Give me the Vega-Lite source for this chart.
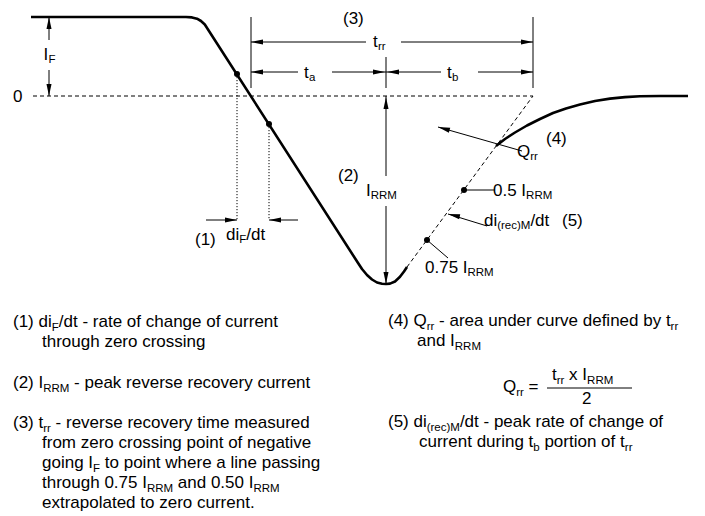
{
  "$schema": "https://vega.github.io/schema/vega-lite/v6.json",
  "width": 705,
  "height": 516,
  "autosize": {"type": "fit", "contains": "padding"},
  "padding": 0,
  "background": "white",
  "config": {"view": {"stroke": null}},
  "datasets": {
    "curves": [
      {"seg": "main", "x": 31, "y": 17},
      {"seg": "main", "x": 186, "y": 17},
      {"seg": "main", "x": 192, "y": 17.4},
      {"seg": "main", "x": 197, "y": 18.7},
      {"seg": "main", "x": 201, "y": 21},
      {"seg": "main", "x": 204.8, "y": 24.5},
      {"seg": "main", "x": 357.4, "y": 262},
      {"seg": "main", "x": 362, "y": 269},
      {"seg": "main", "x": 367, "y": 275},
      {"seg": "main", "x": 372, "y": 279.5},
      {"seg": "main", "x": 377, "y": 282.5},
      {"seg": "main", "x": 382, "y": 283.8},
      {"seg": "main", "x": 386, "y": 284},
      {"seg": "main", "x": 390, "y": 283.6},
      {"seg": "main", "x": 395, "y": 281.5},
      {"seg": "main", "x": 400, "y": 276.8},
      {"seg": "main", "x": 404, "y": 271.5},
      {"seg": "main", "x": 407, "y": 267},
      {"seg": "rec", "x": 496, "y": 146},
      {"seg": "rec", "x": 505, "y": 139},
      {"seg": "rec", "x": 515, "y": 132.5},
      {"seg": "rec", "x": 527, "y": 125.5},
      {"seg": "rec", "x": 540, "y": 119},
      {"seg": "rec", "x": 553, "y": 113},
      {"seg": "rec", "x": 566, "y": 108.5},
      {"seg": "rec", "x": 580, "y": 104.5},
      {"seg": "rec", "x": 595, "y": 101},
      {"seg": "rec", "x": 610, "y": 98.6},
      {"seg": "rec", "x": 625, "y": 97.1},
      {"seg": "rec", "x": 640, "y": 96.3},
      {"seg": "rec", "x": 660, "y": 96},
      {"seg": "rec", "x": 688, "y": 96}
    ],
    "dashed": [
      {"x": 33, "y": 96, "x2": 533, "y2": 96},
      {"x": 407, "y": 267, "x2": 533, "y2": 96}
    ],
    "dotted": [
      {"x": 237, "y": 74, "x2": 237, "y2": 220},
      {"x": 269, "y": 124, "x2": 269, "y2": 220}
    ],
    "thin": [
      {"x": 49, "y": 17, "x2": 49, "y2": 40},
      {"x": 49, "y": 70, "x2": 49, "y2": 96},
      {"x": 251, "y": 17, "x2": 251, "y2": 88},
      {"x": 386, "y": 57, "x2": 386, "y2": 88},
      {"x": 533, "y": 17, "x2": 533, "y2": 88},
      {"x": 251, "y": 42, "x2": 366, "y2": 42},
      {"x": 401, "y": 42, "x2": 533, "y2": 42},
      {"x": 251, "y": 72, "x2": 298, "y2": 72},
      {"x": 332, "y": 72, "x2": 386, "y2": 72},
      {"x": 386, "y": 72, "x2": 441, "y2": 72},
      {"x": 478, "y": 72, "x2": 533, "y2": 72},
      {"x": 386, "y": 96, "x2": 386, "y2": 176},
      {"x": 386, "y": 206, "x2": 386, "y2": 284},
      {"x": 206, "y": 220, "x2": 237, "y2": 220},
      {"x": 269, "y": 220, "x2": 298, "y2": 220},
      {"x": 438, "y": 127, "x2": 522, "y2": 151},
      {"x": 448, "y": 214, "x2": 487, "y2": 226},
      {"x": 464, "y": 190, "x2": 495, "y2": 190},
      {"x": 427, "y": 240, "x2": 448, "y2": 258},
      {"x": 547, "y": 388, "x2": 632, "y2": 388}
    ],
    "heads": [
      {"x": 49, "y": 17, "dir": "up"},
      {"x": 49, "y": 96, "dir": "down"},
      {"x": 251, "y": 42, "dir": "left"},
      {"x": 533, "y": 42, "dir": "right"},
      {"x": 251, "y": 72, "dir": "left"},
      {"x": 385, "y": 72, "dir": "right"},
      {"x": 387, "y": 72, "dir": "left"},
      {"x": 533, "y": 72, "dir": "right"},
      {"x": 386, "y": 97, "dir": "up"},
      {"x": 386, "y": 284, "dir": "down"},
      {"x": 237, "y": 220, "dir": "right"},
      {"x": 269, "y": 220, "dir": "left"},
      {"x": 438, "y": 127, "dir": "qrr"},
      {"x": 448, "y": 214, "dir": "rec"}
    ],
    "dots": [
      {"x": 237, "y": 74},
      {"x": 269, "y": 124},
      {"x": 427, "y": 240},
      {"x": 464, "y": 190}
    ],
    "labels": [
      {"x": 13, "y": 102, "text": "0"},
      {"x": 43.5, "y": 60, "text": "I"},
      {"x": 343, "y": 24, "text": "(3)"},
      {"x": 373, "y": 47, "text": "t"},
      {"x": 304, "y": 78, "text": "t"},
      {"x": 447, "y": 78, "text": "t"},
      {"x": 338, "y": 181, "text": "(2)"},
      {"x": 366, "y": 196, "text": "I"},
      {"x": 195, "y": 245, "text": "(1)"},
      {"x": 226, "y": 240, "text": "di"},
      {"x": 246.3, "y": 240, "text": "/dt"},
      {"x": 517, "y": 157, "text": "Q"},
      {"x": 546, "y": 144, "text": "(4)"},
      {"x": 493, "y": 196, "text": "0.5 I"},
      {"x": 484, "y": 226, "text": "di"},
      {"x": 530.4, "y": 226, "text": "/dt"},
      {"x": 562, "y": 226, "text": "(5)"},
      {"x": 425, "y": 273, "text": "0.75 I"},
      {"x": 13, "y": 327, "text": "(1) di"},
      {"x": 58.8, "y": 327, "text": "/dt - rate of change of current"},
      {"x": 42, "y": 347, "text": "through zero crossing"},
      {"x": 13, "y": 388, "text": "(2) I"},
      {"x": 74.1, "y": 388, "text": "- peak reverse recovery current"},
      {"x": 13, "y": 428, "text": "(3) t"},
      {"x": 55.6, "y": 428, "text": "- reverse recovery time measured"},
      {"x": 42, "y": 448, "text": "from zero crossing point of negative"},
      {"x": 42, "y": 468, "text": "going I"},
      {"x": 104.8, "y": 468, "text": "to point where a line passing"},
      {"x": 42, "y": 488, "text": "through 0.75 I"},
      {"x": 177.8, "y": 488, "text": "and 0.50 I"},
      {"x": 42, "y": 508, "text": "extrapolated to zero current."},
      {"x": 388, "y": 326, "text": "(4) Q"},
      {"x": 439.1, "y": 326, "text": "- area under curve defined by t"},
      {"x": 417, "y": 346, "text": "and I"},
      {"x": 503, "y": 392, "text": "Q"},
      {"x": 528.6, "y": 392, "text": "="},
      {"x": 552, "y": 380, "text": "t"},
      {"x": 569.1, "y": 380, "text": "x I"},
      {"x": 582, "y": 404, "text": "2"},
      {"x": 388, "y": 427, "text": "(5) di"},
      {"x": 459.9, "y": 427, "text": "/dt - peak rate of change of"},
      {"x": 419, "y": 447, "text": "current during t"},
      {"x": 544.4, "y": 447, "text": "portion of t"}
    ],
    "subs": [
      {"x": 48.5, "y": 63, "text": "F"},
      {"x": 378, "y": 50, "text": "rr"},
      {"x": 309, "y": 81, "text": "a"},
      {"x": 452, "y": 81, "text": "b"},
      {"x": 370.7, "y": 199, "text": "RRM"},
      {"x": 239.2, "y": 243, "text": "F"},
      {"x": 530.2, "y": 160, "text": "rr"},
      {"x": 526.1, "y": 199, "text": "RRM"},
      {"x": 497.2, "y": 229, "text": "(rec)M"},
      {"x": 467.5, "y": 276, "text": "RRM"},
      {"x": 51.7, "y": 330.5, "text": "F"},
      {"x": 43.2, "y": 391.5, "text": "RRM"},
      {"x": 43.2, "y": 431.5, "text": "rr"},
      {"x": 93, "y": 471.5, "text": "F"},
      {"x": 146.9, "y": 491.5, "text": "RRM"},
      {"x": 253.4, "y": 491.5, "text": "RRM"},
      {"x": 426.7, "y": 329.5, "text": "rr"},
      {"x": 670.6, "y": 329.5, "text": "rr"},
      {"x": 454.8, "y": 349.5, "text": "RRM"},
      {"x": 516.2, "y": 395.5, "text": "rr"},
      {"x": 556.7, "y": 383.5, "text": "rr"},
      {"x": 587.1, "y": 383.5, "text": "RRM"},
      {"x": 426.7, "y": 430.5, "text": "(rec)M"},
      {"x": 533.3, "y": 450.5, "text": "b"},
      {"x": 624.8, "y": 450.5, "text": "rr"}
    ]
  },
  "encoding": {
    "x": {"field": "x", "type": "quantitative", "scale": {"domain": [0, 705], "nice": false, "zero": false}, "axis": null},
    "y": {"field": "y", "type": "quantitative", "scale": {"domain": [0, 516], "nice": false, "zero": false, "reverse": true}, "axis": null}
  },
  "layer": [
    {
      "data": {"name": "dashed"},
      "mark": {"type": "rule", "stroke": "black", "strokeWidth": 1, "strokeDash": [4, 3]},
      "encoding": {"x2": {"field": "x2"}, "y2": {"field": "y2"}}
    },
    {
      "data": {"name": "dotted"},
      "mark": {"type": "rule", "stroke": "black", "strokeWidth": 1, "strokeDash": [1.2, 1.8]},
      "encoding": {"x2": {"field": "x2"}, "y2": {"field": "y2"}}
    },
    {
      "data": {"name": "thin"},
      "mark": {"type": "rule", "stroke": "black", "strokeWidth": 1},
      "encoding": {"x2": {"field": "x2"}, "y2": {"field": "y2"}}
    },
    {
      "data": {"name": "curves"},
      "mark": {"type": "line", "stroke": "black", "strokeWidth": 2.6, "strokeJoin": "round", "strokeCap": "butt"},
      "encoding": {"detail": {"field": "seg", "type": "nominal"}, "order": {"field": "x", "type": "quantitative"}}
    },
    {
      "data": {"name": "heads"},
      "mark": {"type": "point", "shape": "M0,0L-2,-0.42L-2,0.42Z", "filled": true, "size": 144, "color": "black", "opacity": 1, "strokeWidth": 0},
      "encoding": {
        "angle": {"field": "dir", "type": "nominal", "scale": {"type": "ordinal", "domain": ["right", "down", "left", "up", "qrr", "rec"], "range": [0, 90, 180, 270, 195.7, 193]}, "legend": null}
      }
    },
    {
      "data": {"name": "dots"},
      "mark": {"type": "circle", "size": 36, "color": "black", "opacity": 1}
    },
    {
      "data": {"name": "labels"},
      "mark": {"type": "text", "font": "Liberation Sans", "fontSize": 17, "align": "left", "baseline": "alphabetic", "color": "black"},
      "encoding": {"text": {"field": "text", "type": "nominal"}}
    },
    {
      "data": {"name": "subs"},
      "mark": {"type": "text", "font": "Liberation Sans", "fontSize": 11.5, "align": "left", "baseline": "alphabetic", "color": "black"},
      "encoding": {"text": {"field": "text", "type": "nominal"}}
    }
  ]
}
